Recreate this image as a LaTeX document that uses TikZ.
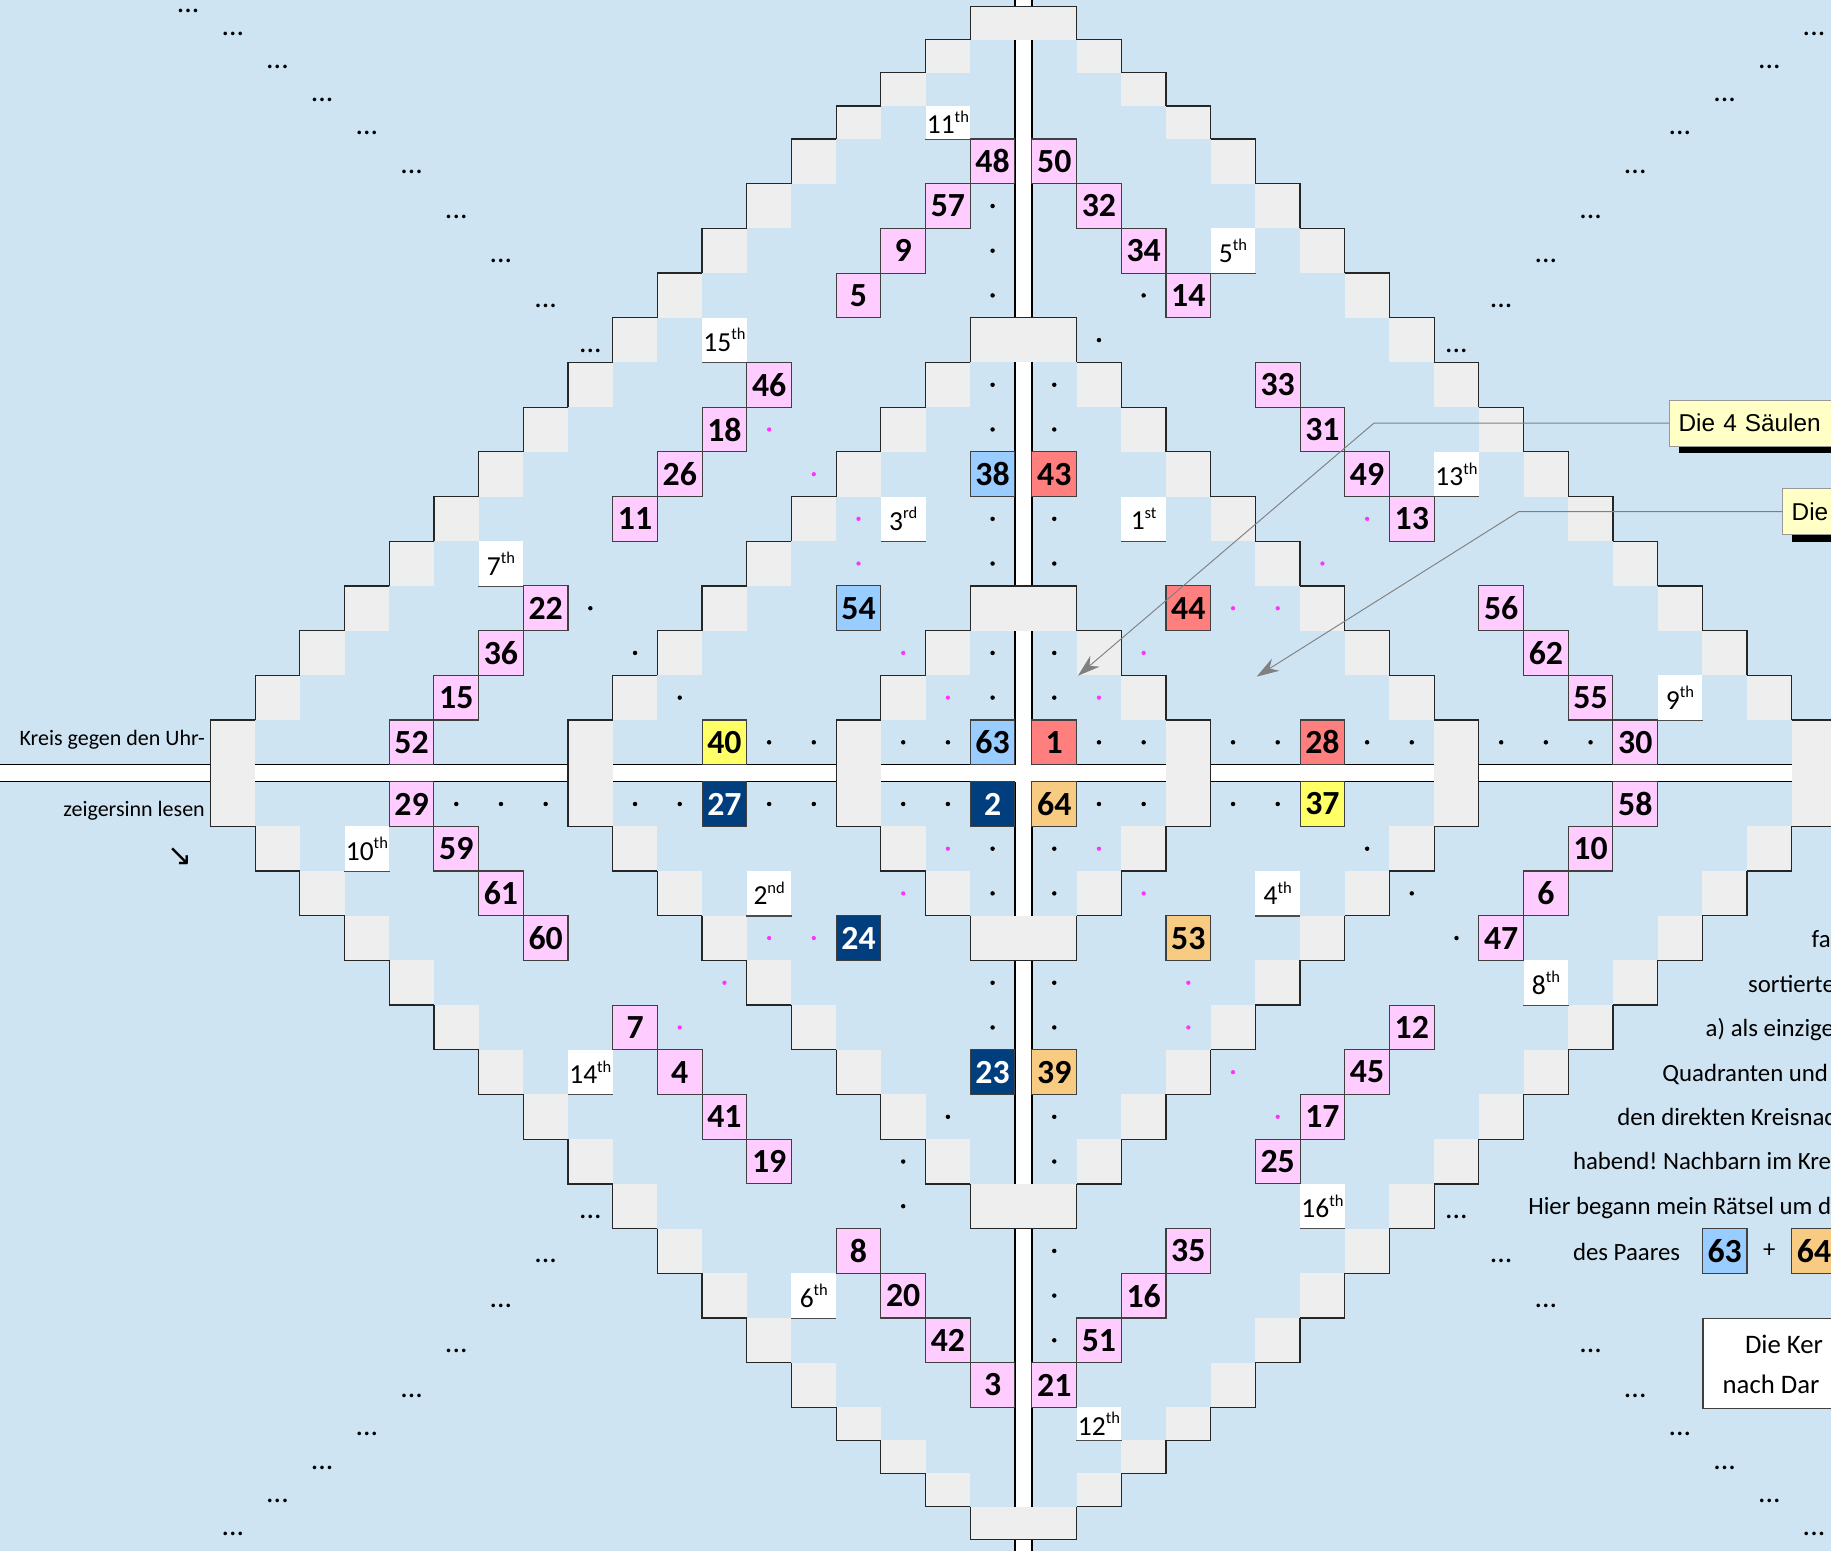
\documentclass[tikz,border=0pt]{standalone}
\usepackage{fontspec}
\setmainfont{Carlito}
\newfontfamily\calloutfont{Liberation Sans}
\newfontfamily\arrowfont{DejaVu Sans}
\usetikzlibrary{arrows.meta,shadows}
\frenchspacing

\definecolor{sky}{HTML}{CEE4F2}
\definecolor{stepgray}{HTML}{EEEEEE}
\definecolor{pinkc}{HTML}{FFCCFF}
\definecolor{lightsky}{HTML}{99CCFF}
\definecolor{salmonc}{HTML}{FF7F7F}
\definecolor{lemon}{HTML}{FFFF66}
\definecolor{navyc}{HTML}{003E7E}
\definecolor{tanc}{HTML}{F8CB82}
\definecolor{calloutc}{HTML}{FFFFC6}
\definecolor{dotpink}{HTML}{FF33FF}

\newcommand\ord[2]{#1\raisebox{0.42em}{\fontsize{10.5}{11}\selectfont #2}}

\begin{document}
\begin{tikzpicture}[x=1cm,y=1cm,
  declare function={xe(\t)=0.19+\t; ye(\t)=(\t<14.5)?(0.19+\t):(14.19+(\t-14)*0.74);
    cx(\t)=sign(\t)*(abs(\t)-0.31); cy(\t)=sign(\t)*(ye(abs(\t))+ye(abs(\t)-1))/2;}]
\tikzset{
  cell/.style 2 args={at={({cx(#1)},{cy(#2)})}},
  numbox/.style={rectangle, draw=black!75, line width=0.7pt, minimum width=1cm, minimum height=1cm,
    inner sep=0pt, font=\fontsize{21.5}{23}\selectfont\bfseries},
  pinkbox/.style={numbox, fill=pinkc},
  bluebox/.style={numbox, fill=lightsky},
  redbox/.style={numbox, fill=salmonc},
  yellowbox/.style={numbox, fill=lemon},
  navybox/.style={numbox, fill=navyc, text=white},
  tanbox/.style={numbox, fill=tanc},
  ordbox/.style={rectangle, fill=white, minimum width=1cm, minimum height=1cm, inner sep=0pt,
    font=\fontsize{17.5}{19}\selectfont,
    append after command={(\tikzlastnode.south west) edge[draw=black!70, line width=0.7pt] (\tikzlastnode.south east)}},
  ring/.style={fill=stepgray},
  ringline/.style={draw=black!85, line width=0.8pt},
  stripline/.style={draw=black, line width=0.8pt},
  blackdot/.style={fill=black},
  pinkdot/.style={fill=dotpink},
  ellip/.style={anchor=base, inner sep=0pt, font=\fontsize{19}{20}\selectfont},
  sidetext/.style={anchor=base west, inner sep=0pt, font=\fontsize{15.8}{18}\selectfont},
  lefttext/.style={anchor=base east, inner sep=0pt, font=\fontsize{14}{16}\selectfont},
  callbox/.style={anchor=west, draw=black!40, line width=0.6pt, fill=calloutc, minimum height=1.04cm,
    text width=3.6cm, inner xsep=0.2cm, align=left, font=\calloutfont\fontsize{15.5}{18}\selectfont,
    general shadow={fill=black, shadow xshift=0.2cm, shadow yshift=-0.15cm}},
  leader/.style={draw=black!50, line width=0.6pt, -{Stealth[length=5mm,width=3.2mm]}}
}

\useasboundingbox (-22.9,-17.4) rectangle (18.07,17.3);
\clip (-22.9,-17.4) rectangle (18.07,17.3);
\fill[sky] (-22.9,-17.4) rectangle (18.07,17.3);

\fill[white] (-0.19,-17.4) rectangle (0.19,17.3);
\fill[white] (-22.9,-0.19) rectangle (18.07,0.19);
\draw[stripline] (-0.19,0.19) -- (-0.19,17.3) (0.19,0.19) -- (0.19,17.3)
  (-0.19,-0.19) -- (-0.19,-17.4) (0.19,-0.19) -- (0.19,-17.4)
  (-0.19,0.19) -- (-22.9,0.19) (-0.19,-0.19) -- (-22.9,-0.19)
  (0.19,0.19) -- (18.07,0.19) (0.19,-0.19) -- (18.07,-0.19);

\foreach \S in {5,11,19}{
  \pgfmathtruncatemacro\last{\S-2}
  \foreach \sx/\sy in {-1/1,1/1,-1/-1,1/-1}{
    \foreach \a in {2,...,\last}{
      \fill[ring] ({\sx*xe(\a-1)},{\sy*ye(\S-\a-1)}) rectangle ({\sx*xe(\a)},{\sy*ye(\S-\a)});
      \draw[ringline] ({\sx*xe(\a-1)},{\sy*ye(\S-\a)}) -- ({\sx*xe(\a)},{\sy*ye(\S-\a)})
        -- ({\sx*xe(\a)},{\sy*ye(\S-\a-1)});
    }
  }
  \foreach \s in {1,-1}{
    \fill[ring] ({-xe(1)},{\s*ye(\S-2)}) rectangle ({xe(1)},{\s*ye(\S-1)});
    \draw[ringline] ({-xe(1)},{\s*ye(\S-2)}) -- ({-xe(1)},{\s*ye(\S-1)}) -- ({xe(1)},{\s*ye(\S-1)})
      -- ({xe(1)},{\s*ye(\S-2)});
    \fill[ring] ({\s*xe(\S-2)},{-ye(1)}) rectangle ({\s*xe(\S-1)},{ye(1)});
    \draw[ringline] ({\s*xe(\S-2)},{ye(1)}) -- ({\s*xe(\S-1)},{ye(1)}) -- ({\s*xe(\S-1)},{-ye(1)})
      -- ({\s*xe(\S-2)},{-ye(1)});
  }
}

\foreach \i/\j/\n in {-1/14/48,-2/13/57,-3/12/9,-4/11/5,-6/9/46,-7/8/18,-8/7/26,-9/6/11,
    -11/4/22,-12/3/36,-13/2/15,-14/1/52,-14/-1/29,-13/-2/59,-12/-3/61,-11/-4/60,
    -9/-6/7,-8/-7/4,-7/-8/41,-6/-9/19,-4/-11/8,-3/-12/20,-2/-13/42,-1/-14/3,
    1/-14/21,2/-13/51,3/-12/16,4/-11/35,6/-9/25,7/-8/17,8/-7/45,9/-6/12,
    11/-4/47,12/-3/6,13/-2/10,14/-1/58,14/1/30,13/2/55,12/3/62,11/4/56,
    9/6/13,8/7/49,7/8/31,6/9/33,4/11/14,3/12/34,2/13/32,1/14/50}
  \node[pinkbox, cell={\i}{\j}] (n\n) {\n};

\foreach \i/\j/\n in {-1/7/38,-4/4/54,-1/1/63}
  \node[bluebox, cell={\i}{\j}] (n\n) {\n};
\foreach \i/\j/\n in {1/7/43,4/4/44,1/1/1,7/1/28}
  \node[redbox, cell={\i}{\j}] (n\n) {\n};
\foreach \i/\j/\n in {-7/1/40,7/-1/37}
  \node[yellowbox, cell={\i}{\j}] (n\n) {\n};
\foreach \i/\j/\n in {-7/-1/27,-1/-1/2,-4/-4/24,-1/-7/23}
  \node[navybox, cell={\i}{\j}] (n\n) {\n};
\foreach \i/\j/\n in {1/-1/64,4/-4/53,1/-7/39}
  \node[tanbox, cell={\i}{\j}] (n\n) {\n};

\foreach \i/\j/\a/\b in {5/12/5/th,-7/10/15/th,10/7/13/th,-3/6/3/rd,3/6/1/st,-12/5/7/th,
    15/2/9/th,-15/-2/10/th,-6/-3/2/nd,6/-3/4/th,12/-5/8/th,-10/-7/14/th,7/-10/16/th,-5/-12/6/th}
  \node[ordbox, cell={\i}{\j}] (o\a) {\ord{\a}{\b}};
\node[ordbox, minimum height=0.74cm, cell={-2}{15}] (o11) {\ord{11}{th}};
\node[ordbox, minimum height=0.74cm, cell={2}{-15}] (o12) {\ord{12}{th}};

\foreach \i/\j in {-1/13,-1/12,-1/11,-1/9,-1/8,-1/6,-1/5,-1/3,-1/2,-1/-2,-1/-3,-1/-5,-1/-6,
    1/9,1/8,1/6,1/5,1/3,1/2,1/-2,1/-3,1/-5,1/-6,1/-8,1/-9,1/-11,1/-12,1/-13,
    3/11,2/10,-2/-8,-3/-9,-3/-10,-10/4,-9/3,-8/2,10/-4,9/-3,8/-2,
    -6/1,-5/1,-3/1,-2/1,2/1,3/1,5/1,6/1,8/1,9/1,11/1,12/1,13/1,
    -13/-1,-12/-1,-11/-1,-9/-1,-8/-1,-6/-1,-5/-1,-3/-1,-2/-1,2/-1,3/-1,5/-1,6/-1}
  \fill[blackdot] ({cx(\i)},{cy(\j)}) circle (0.05);
\foreach \i/\j in {-6/8,-5/7,-4/6,-4/5,-3/3,-2/2,2/2,3/3,-2/-2,-3/-3,2/-2,3/-3,
    -6/-4,-5/-4,-7/-5,-8/-6,4/-5,4/-6,5/-7,6/-8,5/4,6/4,7/5,8/6}
  \fill[pinkdot] ({cx(\i)},{cy(\j)}) circle (0.048);

\foreach \k in {10,...,18}{
  \foreach \sx/\sy/\q in {-1/1/a,1/1/b,-1/-1/c,1/-1/d}
    \node[ellip] (el\q\k) at ({\sx*cx(\k)},{\sy*cy(\k)-0.27}) {...};
}
\node[ellip] (ela19) at ({cx(-19)},17.02) {...};

\node[lefttext] (kreisA) at (-18.31,0.63) {Kreis gegen den Uhr-};
\node[lefttext] (kreisB) at (-18.31,-0.98) {zeigersinn lesen};
\node[font=\arrowfont\fontsize{19}{19}\selectfont, inner sep=0pt] (kreisArrow) at (-18.88,-1.87) {↘};

\node[sidetext] (line1) at (17.63,-3.9) {fa};
\node[sidetext] (line2) at (16.21,-4.9) {sortierte};
\node[sidetext] (line3) at (15.26,-5.9) {a) als einzige};
\node[sidetext] (line4) at (14.29,-6.9) {Quadranten und};
\node[sidetext] (line5) at (13.28,-7.88) {den direkten Kreisnac};
\node[sidetext] (line6) at (12.29,-8.87) {habend! Nachbarn im Kre};
\node[sidetext] (line7) at (11.29,-9.88) {Hier begann mein Rätsel um d};
\node[sidetext] (line8) at (12.29,-10.9) {des Paares};
\node[bluebox, cell={16}{-11}] (pair63) {63};
\node[font=\fontsize{15.8}{18}\selectfont, cell={17}{-11}] (plus) {+};
\node[tanbox, cell={18}{-11}] (pair64) {64};

\node[draw=black!75, line width=0.8pt, fill=white, anchor=north west, minimum width=4cm,
  minimum height=2.02cm] (kernbox) at (15.19,-12.19) {};
\node[sidetext, font=\fontsize{17}{18}\selectfont] (kernA) at (16.14,-12.98) {Die Ker};
\node[sidetext, font=\fontsize{17}{18}\selectfont] (kernB) at (15.64,-13.87) {nach Dar};

\node[callbox] (saeulen) at (14.45,7.83) {Die 4 Säulen};
\node[callbox] (die) at (16.98,5.85) {Die};
\coordinate (bendA) at (7.84,7.83);
\coordinate (tipA) at (1.22,2.18);
\coordinate (bendB) at (11.08,5.85);
\coordinate (tipB) at (5.22,2.16);
\draw[leader] (saeulen.west) -- (bendA) -- (tipA);
\draw[leader] (die.west) -- (bendB) -- (tipB);
\end{tikzpicture}
\end{document}
